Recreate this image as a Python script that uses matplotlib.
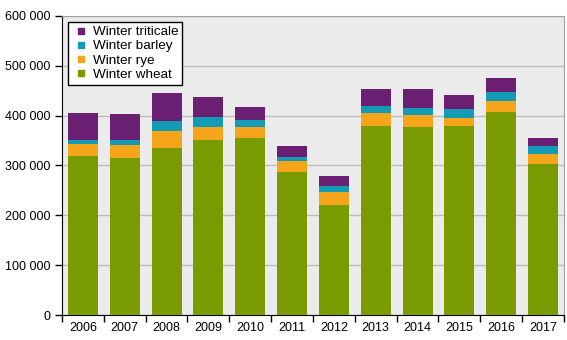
import numpy as np
import matplotlib.pyplot as plt
from matplotlib.lines import Line2D
from matplotlib.ticker import FuncFormatter

plt.rcParams['font.family'] = ['Liberation Sans', 'DejaVu Sans']

# data (hectares)
years = ['2006', '2007', '2008', '2009', '2010', '2011',
         '2012', '2013', '2014', '2015', '2016', '2017']
wheat = [320000, 316000, 336000, 352000, 356000, 286000,
         220000, 380000, 378000, 380000, 408000, 304000]
rye = [24000, 26000, 34000, 26000, 22000, 24000,
       26000, 26000, 24000, 16000, 22000, 20000]
barley = [8000, 10000, 20000, 20000, 14000, 8000,
          12000, 14000, 14000, 18000, 18000, 16000]
triticale = [54000, 52000, 56000, 40000, 26000, 22000,
             20000, 34000, 38000, 28000, 28000, 16000]

series = [('Winter wheat', wheat, '#7A9A01'),
          ('Winter rye', rye, '#F5A51A'),
          ('Winter barley', barley, '#139BB5'),
          ('Winter triticale', triticale, '#6A1F73')]

fig = plt.figure(figsize=(5.67, 3.4), dpi=100)
ax = fig.add_axes([0.1093, 0.0735, 0.8854, 0.8795])
ax.set_facecolor('#EBEBEB')

x = np.arange(len(years))
bottom = np.zeros(len(years))
for name, vals, col in series:
    ax.bar(x, vals, 0.72, bottom=bottom, color=col, label=name, zorder=3)
    bottom += np.array(vals)

ax.set_xlim(-0.5, len(years) - 0.5)
ax.set_ylim(0, 600000)
ax.set_yticks(np.arange(0, 600001, 100000))
ax.yaxis.set_major_formatter(FuncFormatter(lambda v, p: f'{int(v):,}'.replace(',', ' ')))
ax.grid(axis='y', color='#BDBDBD', linewidth=1, zorder=1)

ax.set_xticks(x)
ax.set_xticklabels(years)
ax.set_xticks(np.arange(-0.5, len(years)), minor=True)
ax.tick_params(axis='x', which='major', length=0, pad=5, labelsize=9)
ax.tick_params(axis='x', which='minor', length=5, width=1, color='black')
ax.tick_params(axis='y', length=5, width=1, labelsize=9, pad=3)

for s in ['left', 'bottom']:
    ax.spines[s].set_color('black')
for s in ['top', 'right']:
    ax.spines[s].set_color('#A0A0A0')

# legend with small square markers, reversed order
handles = [Line2D([], [], linestyle='none', marker='s', markersize=5,
                  markerfacecolor=col, markeredgecolor=col)
           for name, vals, col in series[::-1]]
labels = [name for name, vals, col in series[::-1]]
leg = ax.legend(handles, labels, loc='upper left', bbox_to_anchor=(0.012, 0.98),
                fontsize=9.7, frameon=True, fancybox=False, framealpha=1,
                edgecolor='black', handlelength=1.4, handleheight=0.7,
                handletextpad=0.15, labelspacing=0.12, borderpad=0.3,
                borderaxespad=0)
leg.get_frame().set_linewidth(1)
leg.set_zorder(5)

fig.savefig('out.png', dpi=100)
